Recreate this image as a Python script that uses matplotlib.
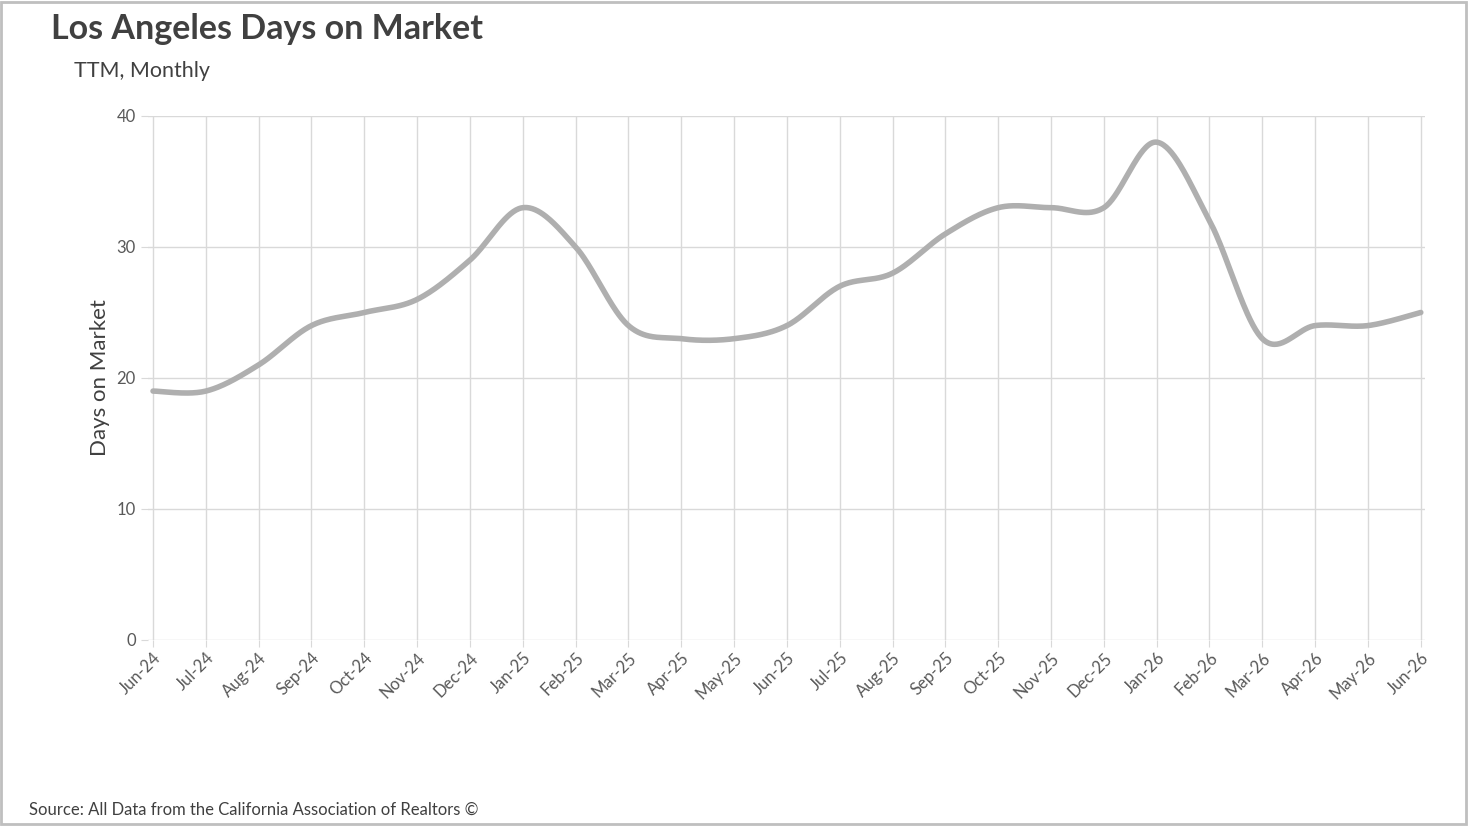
import numpy as np
import matplotlib.pyplot as plt
from matplotlib.patches import Rectangle

plt.rcParams['font.family'] = ['Lato', 'DejaVu Sans']

# dati
mesi = ["Jun-24", "Jul-24", "Aug-24", "Sep-24", "Oct-24", "Nov-24", "Dec-24",
        "Jan-25", "Feb-25", "Mar-25", "Apr-25", "May-25", "Jun-25", "Jul-25",
        "Aug-25", "Sep-25", "Oct-25", "Nov-25", "Dec-25", "Jan-26", "Feb-26",
        "Mar-26", "Apr-26", "May-26", "Jun-26"]
giorni = [19, 19, 21, 24, 25, 26, 29, 33, 30, 24, 23, 23, 24, 27, 28, 31,
          33, 33, 33, 38, 32, 23, 24, 24, 25]

titolo = "Los Angeles Days on Market"
sottotitolo = "TTM, Monthly"
fonte = "Source: All Data from the California Association of Realtors \u00a9"


# linea smussata tipo Excel (Bezier con punti di controllo Catmull-Rom)
def curva_smussata(x, y, n=40):
    x = np.asarray(x, float)
    y = np.asarray(y, float)
    px = np.concatenate(([x[0]], x, [x[-1]]))
    py = np.concatenate(([y[0]], y, [y[-1]]))
    xs, ys = [], []
    t = np.linspace(0, 1, n)
    for i in range(1, len(px) - 2):
        p0 = np.array([px[i], py[i]])
        p3 = np.array([px[i + 1], py[i + 1]])
        c1 = p0 + (np.array([px[i + 1], py[i + 1]]) - np.array([px[i - 1], py[i - 1]])) / 6
        c2 = p3 - (np.array([px[i + 2], py[i + 2]]) - np.array([px[i], py[i]])) / 6
        b = ((1 - t) ** 3)[:, None] * p0 + (3 * (1 - t) ** 2 * t)[:, None] * c1 \
            + (3 * (1 - t) * t ** 2)[:, None] * c2 + (t ** 3)[:, None] * p3
        xs.extend(b[:, 0])
        ys.extend(b[:, 1])
    return np.array(xs), np.array(ys)


fig = plt.figure(figsize=(14.7, 8.26), dpi=100)
ax = fig.add_axes([0.1005, 0.2252, 0.8689, 0.6344])

x = np.arange(len(mesi))
xs, ys = curva_smussata(x, giorni)
ax.plot(xs, ys, color="#afafaf", linewidth=4, solid_capstyle="round")

ax.set_xlim(-0.1, 24.08)
ax.set_ylim(0, 40)
ax.set_yticks([0, 10, 20, 30, 40])
ax.set_xticks(x)
ax.set_xticklabels(mesi, rotation=45, ha="right", va="top", rotation_mode="anchor")
ax.grid(True, color="#d9d9d9", linewidth=1)
ax.set_axisbelow(True)
for s in ax.spines.values():
    s.set_visible(False)
ax.tick_params(axis="both", colors="#d9d9d9", length=5, labelcolor="#595959", labelsize=12)
ax.tick_params(axis="x", pad=2)
ax.set_ylabel("Days on Market", fontsize=16, color="#404040", labelpad=5)

# titoli
fig.text(0.035, 0.965, titolo, fontsize=24.5, fontweight="bold", color="#404040", va="center")
fig.text(0.05, 0.914, sottotitolo, fontsize=15.5, color="#404040", va="center")
fig.text(0.02, 0.02, fonte, fontsize=12, color="#404040", va="center")

# cornice
fig.patches.append(Rectangle((0.001, 0.002), 0.996, 0.995, transform=fig.transFigure,
                             fill=False, edgecolor="#bfbfbf", linewidth=2))

fig.savefig("out.png", dpi=100)
